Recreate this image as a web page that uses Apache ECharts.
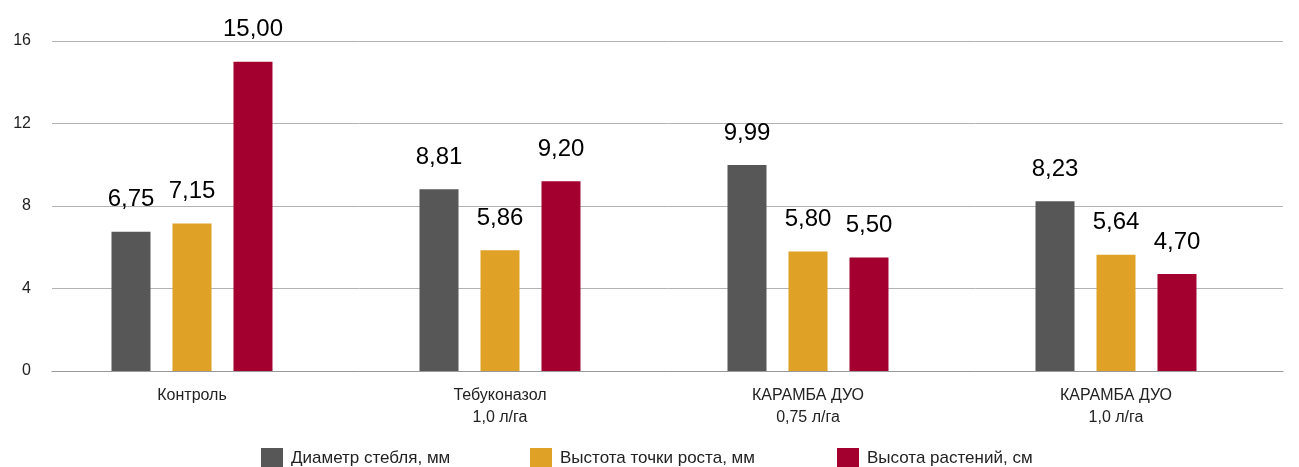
<!DOCTYPE html>
<html>
<head>
<meta charset="utf-8">
<script src="https://cdn.jsdelivr.net/npm/echarts@6/dist/echarts.min.js"></script>
<style>
html,body{margin:0;padding:0;background:#fff;}
#c{width:1299px;height:467px;}
</style>
</head>
<body>
<div id="c"></div>
<script>
const categories = ['Контроль', 'Тебуконазол\n1,0 л/га', 'КАРАМБА ДУО\n0,75 л/га', 'КАРАМБА ДУО\n1,0 л/га'];
const seriesNames = ['Диаметр стебля, мм', 'Выстота точки роста, мм', 'Высота растений, см'];
const diameter = [6.75, 8.81, 9.99, 8.23];
const growthPoint = [7.15, 5.86, 5.80, 5.64];
const plantHeight = [15.00, 9.20, 5.50, 4.70];
const yTicks = [0, 4, 8, 12, 16];
const colors = ['#575757', '#DFA126', '#A3002F'];

const FONT = '"Liberation Sans", Arial, Helvetica, sans-serif';
const chart = echarts.init(document.getElementById('c'));

function fmt(v) { return v.toFixed(2).replace('.', ','); }

const dataSets = [diameter, growthPoint, plantHeight];
const series = dataSets.map((d, i) => ({
  name: seriesNames[i],
  type: 'bar',
  xAxisIndex: 1,
  yAxisIndex: 1,
  data: d,
  barWidth: 39,
  barGap: '56.4%',
  itemStyle: { color: colors[i] },
  label: {
    show: true,
    position: 'top',
    distance: 20,
    color: '#000',
    fontFamily: FONT,
    fontSize: 24,
    formatter: p => fmt(p.value)
  }
}));

function legendAt(i, left) {
  return {
    data: [seriesNames[i]],
    left: left,
    top: 448,
    itemWidth: 22,
    itemHeight: 21,
    itemGap: 0,
    selectedMode: false,
    icon: 'rect',
    textStyle: { fontFamily: FONT, fontSize: 17, color: '#222', padding: [6, 0, 0, 3] },
    padding: 0
  };
}

chart.setOption({
  animation: false,
  legend: [legendAt(0, 261), legendAt(1, 530), legendAt(2, 837)],
  grid: [
    { left: 52, right: 16, top: 41, bottom: 96 },
    { left: 38, right: 29, top: 41, bottom: 96 }
  ],
  xAxis: [
    { type: 'value', gridIndex: 0, min: 0, max: 1, show: true,
      axisLine: { show: true, lineStyle: { color: '#999', width: 1 } },
      axisTick: { show: false }, axisLabel: { show: false }, splitLine: { show: false } },
    { type: 'category', gridIndex: 1, data: categories,
      axisLine: { show: false }, axisTick: { show: false },
      axisLabel: { fontFamily: FONT, fontSize: 16, color: '#222', margin: 14, lineHeight: 22 } }
  ],
  yAxis: [
    { type: 'value', gridIndex: 0, min: yTicks[0], max: yTicks[yTicks.length - 1], interval: 4,
      axisLine: { show: false }, axisTick: { show: false },
      axisLabel: { fontFamily: FONT, fontSize: 16, color: '#222', margin: 21 },
      splitLine: { show: true, lineStyle: { color: '#b3b3b3', width: 1 } } },
    { type: 'value', gridIndex: 1, min: yTicks[0], max: yTicks[yTicks.length - 1], interval: 4,
      show: false, splitLine: { show: false } }
  ],
  series: series
});
</script>
</body>
</html>
